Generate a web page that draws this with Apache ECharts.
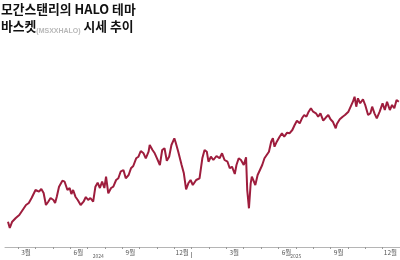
<!DOCTYPE html>
<html>
<head>
<meta charset="utf-8">
<script src="https://cdn.jsdelivr.net/npm/echarts@6/dist/echarts.min.js"></script>
<style>
html,body{margin:0;padding:0;background:#fff;}
#chart{width:400px;height:260px;}
</style>
</head>
<body>
<div id="chart"></div>
<script>
// ---- data ----
const dates = [
'2024-02-13','2024-02-16','2024-02-20','2024-02-26','2024-03-03','2024-03-09','2024-03-15','2024-03-20','2024-03-25','2024-03-28',
'2024-04-01','2024-04-07','2024-04-11','2024-04-15','2024-04-19','2024-04-23','2024-04-27','2024-05-02','2024-05-05','2024-05-08',
'2024-05-12','2024-05-18','2024-05-22','2024-05-27','2024-05-31','2024-06-03','2024-06-06','2024-06-10','2024-06-14','2024-06-19',
'2024-06-24','2024-06-28','2024-07-02','2024-07-06','2024-07-11','2024-07-15','2024-07-19','2024-07-23','2024-07-27','2024-07-31',
'2024-08-03','2024-08-07','2024-08-12','2024-08-16','2024-08-21','2024-08-25','2024-08-29','2024-09-03','2024-09-07','2024-09-12',
'2024-09-16','2024-09-20','2024-09-25','2024-09-29','2024-10-03','2024-10-08','2024-10-12','2024-10-17','2024-10-19','2024-10-24',
'2024-10-28','2024-11-01','2024-11-06','2024-11-10','2024-11-14','2024-11-18','2024-11-22','2024-11-26','2024-12-01','2024-12-03',
'2024-12-08','2024-12-14','2024-12-18','2024-12-22','2024-12-26','2024-12-30','2025-01-03','2025-01-09','2025-01-15','2025-01-20',
'2025-01-24','2025-01-28','2025-01-31','2025-02-04','2025-02-08','2025-02-13','2025-02-18','2025-02-22','2025-02-26','2025-03-03',
'2025-03-07','2025-03-11','2025-03-16','2025-03-19','2025-03-23','2025-03-27','2025-04-01','2025-04-05','2025-04-07','2025-04-10',
'2025-04-13','2025-04-15','2025-04-18','2025-04-21','2025-04-25','2025-04-29','2025-05-03','2025-05-07','2025-05-11','2025-05-15',
'2025-05-19','2025-05-22','2025-05-25','2025-05-29','2025-06-03','2025-06-07','2025-06-11','2025-06-16','2025-06-20','2025-06-25',
'2025-06-29','2025-07-03','2025-07-08','2025-07-12','2025-07-16','2025-07-20','2025-07-24','2025-07-28','2025-08-01','2025-08-06',
'2025-08-10','2025-08-14','2025-08-19','2025-08-24','2025-08-28','2025-09-01','2025-09-05','2025-09-10','2025-09-12','2025-09-17',
'2025-09-22','2025-09-26','2025-10-02','2025-10-06','2025-10-10','2025-10-13','2025-10-16','2025-10-19','2025-10-23','2025-10-28',
'2025-11-01','2025-11-06','2025-11-10','2025-11-13','2025-11-17','2025-11-21','2025-11-26','2025-12-01','2025-12-05','2025-12-09',
'2025-12-14','2025-12-18','2025-12-22','2025-12-26','2025-12-30'
];
const values = [
25.3,19,25.3,29,32,37,42,44,49,47,
57,55.3,58,54,42,45.3,49,47,44,50.3,
60.3,66.3,65.3,57,59,53,57,50.3,47,42,
45.3,50,47,49,45.3,60.3,64.3,59,65.3,59,
70.3,53.7,59,60.3,67,68.7,75.3,77,68.7,72,
78.7,81,88.7,90.3,96,93.7,88.7,95.3,102,97,
93.7,88.7,82,97,98.7,86.3,90.3,102,108.7,105.3,
95.3,82,73.7,57.7,63.7,67,62,67,68.7,88.7,
97,95.3,85.3,90.3,87,91,88.7,93.7,87,85.3,
78.7,80.3,73,82,88.7,87,82,89.7,57,38.7,
63.7,70.3,72,62,72,77,82,88.7,92,95.3,
105.3,108.7,100.3,105.3,110.3,113.7,110.3,114.3,113.7,117,
122,126.3,123.7,128.7,132,130.3,135.3,138.7,135.3,133.7,
130.3,133.7,126.3,129.7,132,127.7,125.3,118.7,123,127.7,
130.3,132,135.3,140.3,145.3,150.3,140.3,148.7,143.7,147.7,
142,132,133.7,140.3,133.7,128.7,135.3,143.7,137,145.3,
137,142,138.7,147,145.3
];
const axisStart = '2024-02-08';
const axisEnd = '2025-12-31';
const yearBoundary = '2025-01-01';
const monthTickLabels = ['3월','6월','9월','12월','3월','6월','9월','12월'];
const monthLabelDates = ['2024-03-15','2024-06-15','2024-09-15','2024-12-15','2025-03-15','2025-06-15','2025-09-15','2025-12-15'];
const yearLabels = ['2024','2025'];
const titleLine1 = '모간스탠리의 HALO 테마';
const titleLine2a = '바스켓';
const titleTicker = '(MSXXHALO)';
const titleLine2b = ' 시세 추이';

// ---- helpers ----
function monthVal(s){
  const [y,m,d] = s.split('-').map(Number);
  const dim = new Date(y, m, 0).getDate();
  return (y-2024)*12 + (m-1) + (d-1)/dim;
}
const xMin = monthVal(axisStart);
const xMax = monthVal(axisEnd) + 1/31;
const xBoundary = monthVal(yearBoundary);
const labelVals = monthLabelDates.map(monthVal);
const tickVals = [];
for (let k = Math.ceil(xMin); k <= Math.floor(xMax); k++) tickVals.push(k);
const yearVals = [(xMin + xBoundary)/2, (xBoundary + xMax)/2];

const seriesData = dates.map((d,i)=>[monthVal(d), values[i]]);

const chart = echarts.init(document.getElementById('chart'), null, {renderer:'canvas'});
const font = '"Noto Sans CJK KR", "Noto Sans", sans-serif';
chart.setOption({
  animation: false,
  backgroundColor: '#fff',
  title: {
    left: 1, top: 1, padding: 0,
    text: '{b|' + titleLine1 + '}\n{b|' + titleLine2a + '}{s|' + titleTicker + '}{b|' + titleLine2b + '}',
    textStyle: {
      rich: {
        b: {fontFamily: font, fontSize: 12.8, fontWeight: 'bold', color: '#111', lineHeight: 17},
        s: {fontFamily: '"Liberation Sans", Arial, sans-serif', fontSize: 7, color: '#b8b8b8', lineHeight: 17, verticalAlign: 'bottom'}
      }
    }
  },
  grid: {left: 5, right: 0, top: 40, bottom: 13},
  xAxis: [{
    type: 'value', min: xMin, max: xMax,
    axisLine: {show: true, lineStyle: {color: '#b5b5b5', width: 1}},
    axisTick: {show: true, customValues: tickVals, length: 2, lineStyle: {color: '#999'}},
    splitLine: {show: false},
    axisLabel: {
      show: true, customValues: labelVals, margin: 2,
      fontFamily: font, fontSize: 6.5, color: '#555',
      formatter: function(v){ return monthTickLabels[labelVals.findIndex(x=>Math.abs(x-v)<1e-6)] || ''; }
    }
  },{
    type: 'value', min: xMin, max: xMax, position: 'bottom', offset: 5,
    axisLine: {show: false},
    axisTick: {show: true, customValues: [xBoundary], length: 6, lineStyle: {color: '#999'}},
    splitLine: {show: false},
    axisLabel: {
      show: true, customValues: yearVals, margin: 2,
      fontFamily: font, fontSize: 5, color: '#666',
      formatter: function(v){ return yearLabels[yearVals.findIndex(x=>Math.abs(x-v)<1e-6)] || ''; }
    }
  }],
  yAxis: {type: 'value', min: 0, max: 207, show: false, splitLine: {show: false}},
  series: [{
    type: 'line', xAxisIndex: 0, data: seriesData, symbol: 'none',
    lineStyle: {color: '#9e1d3d', width: 2}, smooth: false
  }]
});
</script>
</body>
</html>
